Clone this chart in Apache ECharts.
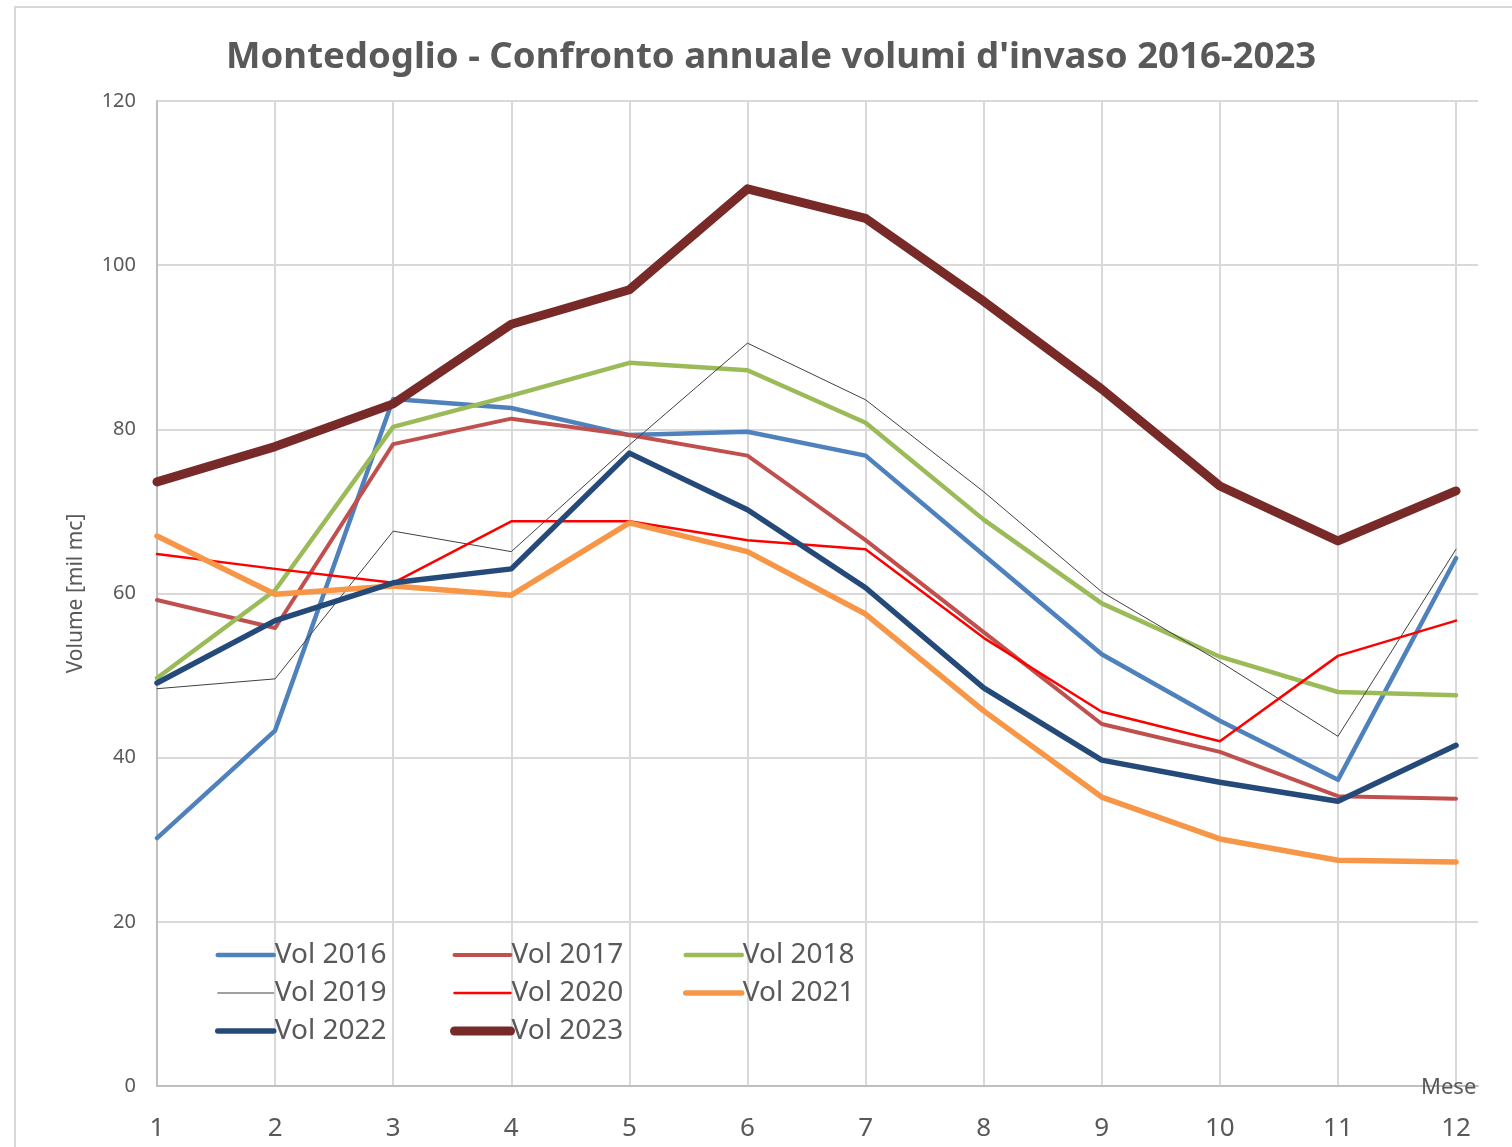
<!DOCTYPE html>
<html>
<head>
<meta charset="utf-8">
<script src="https://cdn.jsdelivr.net/npm/echarts@6/dist/echarts.min.js"></script>
<style>
  html, body { margin: 0; padding: 0; background: #fff; }
  #chart { width: 1512px; height: 1147px; }
</style>
</head>
<body>
<div id="chart"></div>
<script>
var months = [1, 2, 3, 4, 5, 6, 7, 8, 9, 10, 11, 12];

var vol2016 = [30.2, 43.3, 83.7, 82.6, 79.3, 79.7, 76.8, 64.7, 52.6, 44.5, 37.3, 64.3];
var vol2017 = [59.2, 55.8, 78.2, 81.3, 79.3, 76.8, 66.5, 55.3, 44.1, 40.7, 35.3, 35.0];
var vol2018 = [49.7, 60.4, 80.3, 84.1, 88.1, 87.2, 80.8, 69.0, 58.8, 52.3, 48.0, 47.6];
var vol2019 = [48.4, 49.6, 67.6, 65.1, 78.1, 90.5, 83.6, 72.4, 60.2, 51.7, 42.6, 65.4];
var vol2020 = [64.8, 63.0, 61.3, 68.8, 68.8, 66.5, 65.4, 54.6, 45.6, 42.0, 52.4, 56.7];
var vol2021 = [67.0, 59.9, 60.9, 59.8, 68.6, 65.1, 57.5, 45.7, 35.2, 30.1, 27.5, 27.3];
var vol2022 = [49.1, 56.7, 61.3, 63.0, 77.1, 70.2, 60.7, 48.5, 39.7, 37.0, 34.7, 41.5];
var vol2023 = [73.6, 77.9, 83.1, 92.8, 97.0, 109.3, 105.7, 95.6, 84.9, 73.1, 66.4, 72.5];

var seriesNames = ['Vol 2016', 'Vol 2017', 'Vol 2018', 'Vol 2019', 'Vol 2020', 'Vol 2021', 'Vol 2022', 'Vol 2023'];
var seriesData = [vol2016, vol2017, vol2018, vol2019, vol2020, vol2021, vol2022, vol2023];
var colors = ['#4f81bd', '#c0504d', '#9bbb59', '#404040', '#ff0000', '#f79646', '#254a7a', '#772a28'];
var widths = [4.5, 4, 4.5, 1, 2.5, 5.5, 5.5, 9];

var font = 'Noto Sans';
var grey = '#595959';

function pairs(arr) {
    return arr.map(function (v, i) { return [months[i], v]; });
}

// one vertical legend per column, like the excel layout
function makeLegend(left, idx) {
    return {
        orient: 'vertical',
        left: left,
        top: 938,
        padding: 0,
        itemWidth: 56,
        itemHeight: 14,
        itemGap: 4,
        itemStyle: { opacity: 0 },
        data: idx.map(function (i) {
            return { name: seriesNames[i], lineStyle: { width: widths[i], color: colors[i] } };
        }),
        textStyle: { fontFamily: font, fontSize: 28, color: grey, padding: [0, 0, 0, -4], lineHeight: 34 }
    };
}

var chart = echarts.init(document.getElementById('chart'));

var series = seriesData.map(function (d, i) {
    return {
        name: seriesNames[i],
        type: 'line',
        data: pairs(d),
        showSymbol: false,
        symbol: 'none',
        z: i + 2,
        lineStyle: { color: colors[i], width: widths[i], cap: 'round', join: 'round' },
        itemStyle: { color: colors[i] }
    };
});

var option = {
    backgroundColor: '#fff',
    animation: false,
    title: {
        text: "Montedoglio - Confronto annuale volumi d'invaso 2016-2023",
        left: 221,
        top: 34,
        textStyle: { fontFamily: font, fontSize: 36.6, fontWeight: 'bold', color: grey }
    },
    legend: [
        makeLegend(215, [0, 3, 6]),
        makeLegend(450, [1, 4, 7]),
        makeLegend(683, [2, 5])
    ],
    grid: { left: 157, right: 34, top: 101, bottom: 61, containLabel: false },
    xAxis: {
        type: 'value',
        min: 1,
        max: 12.186,
        interval: 1,
        axisLine: { show: true, lineStyle: { color: '#bfbfbf', width: 2 } },
        axisTick: { show: false },
        axisLabel: { showMaxLabel: false, fontFamily: font, fontSize: 26, color: grey, margin: 30 },
        splitLine: { show: true, showMaxLine: false, lineStyle: { color: '#d9d9d9', width: 2 } }
    },
    yAxis: {
        type: 'value',
        min: 0,
        max: 120,
        interval: 20,
        name: 'Volume [mil mc]',
        nameLocation: 'middle',
        nameGap: 70,
        nameTextStyle: { fontFamily: font, fontSize: 21, color: grey },
        axisLine: { show: true, lineStyle: { color: '#bfbfbf', width: 2 } },
        axisTick: { show: false },
        axisLabel: { fontFamily: font, fontSize: 20, color: grey, margin: 21 },
        splitLine: { show: true, lineStyle: { color: '#d9d9d9', width: 2 } }
    },
    graphic: [{
        type: 'text',
        left: 1421,
        top: 1077,
        z: 100,
        style: { text: 'Mese', fontFamily: font, fontSize: 22, fill: grey }
    }, {
        type: 'rect',
        shape: { x: 15, y: 7, width: 1510, height: 1150 },
        style: { fill: 'none', stroke: '#d9d9d9', lineWidth: 2 },
        silent: true
    }],
    series: series
};

chart.setOption(option);
</script>
</body>
</html>
